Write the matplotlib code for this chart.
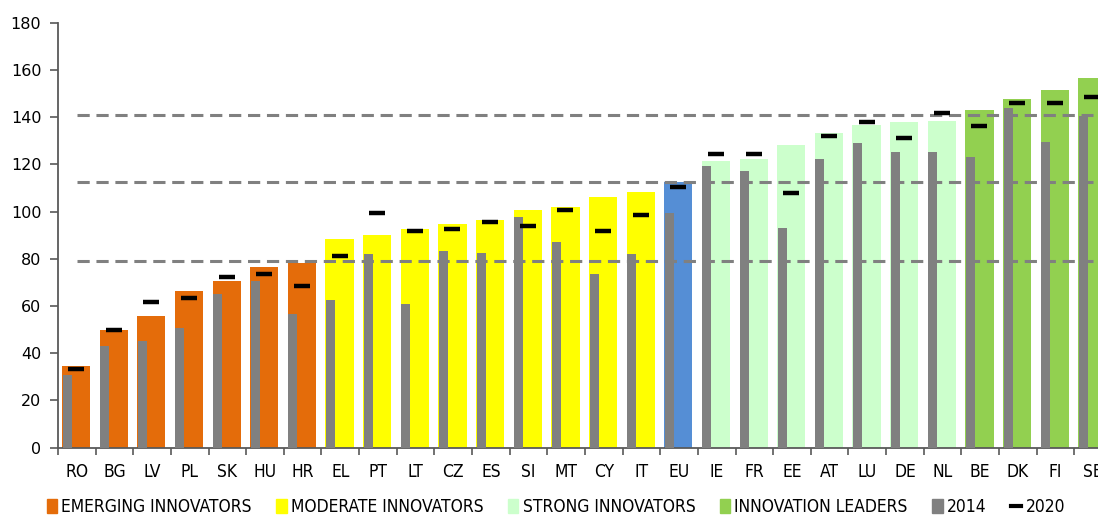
import numpy as np
import matplotlib
matplotlib.use("Agg")
import matplotlib.pyplot as plt
from matplotlib.patches import Patch
from matplotlib.lines import Line2D
from matplotlib.font_manager import FontProperties

countries = ["RO", "BG", "LV", "PL", "SK", "HU", "HR",
             "EL", "PT", "LT", "CZ", "ES", "SI", "MT", "CY", "IT",
             "EU",
             "IE", "FR", "EE", "AT", "LU", "DE", "NL",
             "BE", "DK", "FI", "SE"]
groups = ["E"] * 7 + ["M"] * 9 + ["EU"] + ["S"] * 7 + ["L"] * 4

score_2021 = [34.7, 49.8, 55.8, 66.2, 70.7, 76.7, 78.1,
              88.6, 90.1, 92.5, 94.6, 96.4, 100.7, 102.1, 106.3, 108.1,
              112.7,
              121.3, 122.1, 128.1, 133.1, 136.5, 137.8, 138.5,
              143.0, 147.5, 151.3, 156.6]
score_2014 = [30.8, 43.1, 45.3, 50.8, 65.1, 70.7, 56.6,
              62.5, 81.9, 60.9, 83.4, 82.6, 97.6, 87.1, 73.6, 81.9,
              99.3,
              119.3, 117.0, 93.0, 122.3, 128.9, 125.2, 125.2,
              123.1, 143.7, 129.6, 140.6]
score_2020 = [33.3, 49.8, 61.8, 63.4, 72.3, 73.7, 68.6,
              81.2, 99.3, 91.8, 92.5, 95.4, 93.9, 100.7, 91.8, 98.4,
              110.3,
              124.5, 124.5, 108.0, 132.0, 137.9, 131.3, 141.6,
              136.4, 146.1, 146.1, 148.5]
thresholds = [141, 112.5, 79]

group_colors = {"E": "#E46C0A", "M": "#FFFF00", "EU": "#558ED5",
                "S": "#CCFFCC", "L": "#92D050"}
legend_names = [("E", "EMERGING INNOVATORS"), ("M", "MODERATE INNOVATORS"),
                ("S", "STRONG INNOVATORS"), ("L", "INNOVATION LEADERS")]

cond = FontProperties(family="DejaVu Sans", stretch="condensed", size=12.5)

fig = plt.figure(figsize=(10.98, 5.15), dpi=100)
ax = fig.add_axes([58 / 1098, 67.3 / 515, 1054 / 1098, 425 / 515])

x = np.arange(len(countries))
cols = [group_colors[g] for g in groups]
ax.bar(x - 0.02, score_2021, width=0.75, color=cols, zorder=2)
ax.bar(x - 0.26, score_2014, width=0.24, color="#808080", zorder=3)
ax.scatter(x - 0.02, score_2020, marker="_", s=120, linewidths=3.2,
           color="black", zorder=5)

for t in thresholds:
    ax.plot([x[0], x[-1]], [t, t], color="#808080", lw=2.2,
            dashes=(4, 2.2), zorder=4)

ax.set_xlim(-0.5, len(countries) - 0.5)
ax.set_ylim(0, 180)
ax.set_yticks(np.arange(0, 181, 20))
ax.set_xticks(x)
ax.set_xticklabels(countries, fontproperties=cond)
ax.set_xticks(np.arange(-0.5, len(countries), 1), minor=True)
ax.tick_params(axis="x", which="major", length=0, pad=11)
ax.tick_params(axis="x", which="minor", length=5, width=1.2, color="#595959")
ax.tick_params(axis="y", length=6, width=1.2, color="#595959",
               labelsize=11.5, pad=6)
for s in ["top", "right"]:
    ax.spines[s].set_visible(False)
for s in ["left", "bottom"]:
    ax.spines[s].set_color("#595959")
    ax.spines[s].set_linewidth(1.3)

handles = [Patch(color=group_colors[k], label=n) for k, n in legend_names]
handles.append(Patch(color="#808080", label="2014"))
handles.append(Line2D([], [], color="black", lw=3, label="2020"))
fig.legend(handles=handles, loc="center left",
           bbox_to_anchor=(31 / 1098, 1 - 507 / 515), ncol=6, frameon=False,
           prop=cond, handlelength=0.6, handleheight=0.8, handletextpad=0.25,
           columnspacing=1.4)

fig.savefig("out.png", dpi=100)
